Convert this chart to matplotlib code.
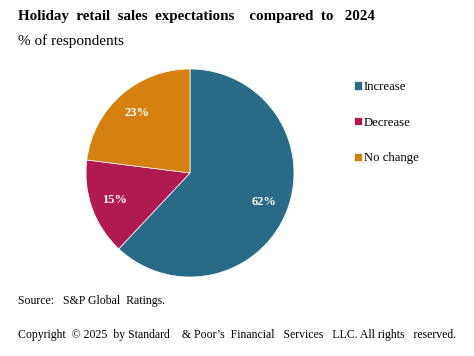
import matplotlib
matplotlib.use("Agg")
import matplotlib.pyplot as plt

categories = ["Increase", "Decrease", "No change"]
values = [62, 15, 23]
colors = ["#2A6A89", "#B01A50", "#D4800F"]

title = "Holiday  retail  sales  expectations    compared  to   2024"
subtitle = "% of respondents"
source = "Source:   S&P Global  Ratings."
copyright_txt = "Copyright  \u00a9 2025  by Standard    & Poor\u2019s  Financial   Services   LLC. All rights   reserved."

plt.rcParams['font.family'] = ['Liberation Serif', 'DejaVu Serif']

fig = plt.figure(figsize=(4.74, 3.56), dpi=100)
fig.patch.set_facecolor("white")

ax = fig.add_axes([0.1814, 0.2219, 0.4388, 0.5843])
wedges, texts, autotexts = ax.pie(
    values, colors=colors, startangle=90, counterclock=False,
    autopct=lambda p: f"{p:.0f}%", pctdistance=0.77,
    wedgeprops=dict(linewidth=0.5, edgecolor="white"),
    textprops=dict(color="white", fontsize=9, fontweight="bold"))
ax.set_aspect("equal")
ax.set_xlim(-1.0, 1.0)
ax.set_ylim(-1.0, 1.0)

leg = fig.legend(wedges, categories, loc="upper left",
                 bbox_to_anchor=(354 / 474, 1 - 81 / 356),
                 frameon=False, fontsize=9.2, labelspacing=1.85,
                 handlelength=0.62, handleheight=0.62, handletextpad=0.15,
                 borderaxespad=0, borderpad=0)

fig.text(18 / 474, 1 - 20 / 356, title, fontsize=10.8, fontweight="bold",
         va="baseline", ha="left")
fig.text(18 / 474, 1 - 45 / 356, subtitle, fontsize=11, va="baseline", ha="left")
fig.text(18 / 474, 1 - 304 / 356, source, fontsize=8.5, va="baseline", ha="left")
fig.text(18 / 474, 1 - 338 / 356, copyright_txt, fontsize=8.5, va="baseline", ha="left")

fig.savefig("out.png", dpi=100, facecolor="white")
